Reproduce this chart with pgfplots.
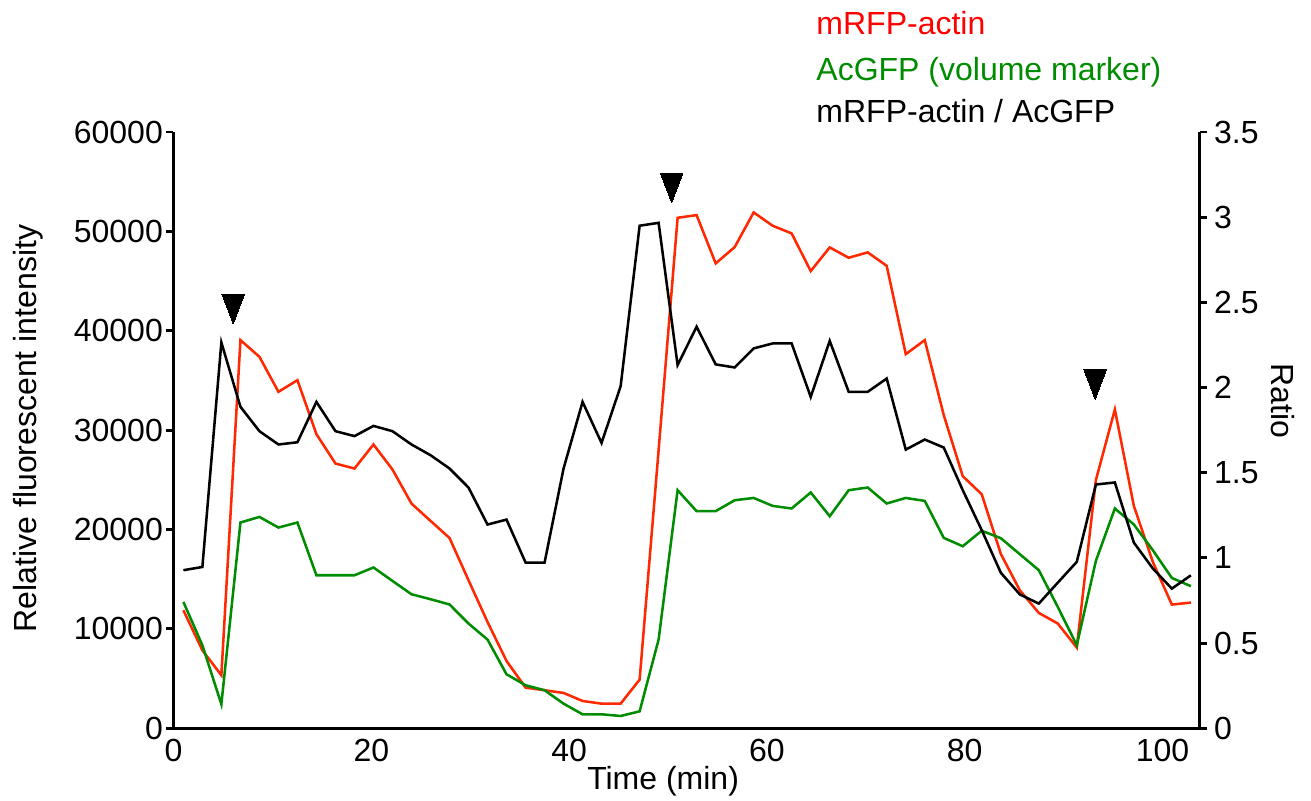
\documentclass[border=0pt]{standalone}
\usepackage{fontspec}
\setmainfont{Liberation Sans}
\usepackage{pgfplots}
\pgfplotsset{compat=1.18}

\definecolor{lnred}{RGB}{255,40,0}
\definecolor{lngreen}{RGB}{0,140,0}
\definecolor{txtred}{RGB}{255,0,0}

% time points (min), one every ~1.92 min
\pgfplotstableread{
t      rfp    gfp
1.00   11880  12720
2.92   7850   8360
4.84   5340   2420
6.77   39060  20710
8.69   37380  21270
10.61  33860  20200
12.53  35030  20710
14.45  29600  15400
16.38  26640  15400
18.30  26140  15400
20.22  28560  16180
22.14  26040  14830
24.06  22620  13490
25.99  20870  12990
27.91  19150  12460
29.83  14900  10540
31.75  10700  8930
33.67  6780   5440
35.60  4090   4330
37.52  3830   3830
39.44  3560   2480
41.36  2750   1410
43.28  2480   1410
45.21  2480   1240
47.13  4900   1710
49.05  28000  8930
50.97  51370  23960
52.89  51640  21850
54.82  46780  21850
56.74  48420  22950
58.66  51910  23180
60.58  50570  22380
62.50  49800  22120
64.43  46010  23730
66.35  48390  21340
68.27  47350  23960
70.19  47890  24230
72.11  46540  22620
74.04  37650  23180
75.96  39060  22880
77.88  31510  19160
79.80  25370  18320
81.72  23550  19880
83.65  17550  19130
85.57  13890  17520
87.49  11610  15910
89.41  10540  12210
91.33  8120   8360
93.26  24970  16840
95.18  32080  22120
97.10  22380  20510
99.02  16740  17920
100.94 12450  15130
102.87 12650  14300
}\intensity

\pgfplotstableread{
t      ratio
1.00   0.928
2.92   0.947
4.84   2.265
6.77   1.887
8.69   1.744
10.61  1.666
12.53  1.679
14.45  1.916
16.38  1.744
18.30  1.715
20.22  1.775
22.14  1.744
24.06  1.666
25.99  1.603
27.91  1.525
29.83  1.413
31.75  1.196
33.67  1.225
35.60  0.973
37.52  0.973
39.44  1.525
41.36  1.916
43.28  1.675
45.21  2.008
47.13  2.950
49.05  2.967
50.97  2.132
52.89  2.357
54.82  2.136
56.74  2.118
58.66  2.230
60.58  2.259
62.50  2.259
64.43  1.945
66.35  2.274
68.27  1.975
70.19  1.975
72.11  2.053
74.04  1.636
75.96  1.695
77.88  1.648
79.80  1.398
81.72  1.163
83.65  0.913
85.57  0.786
87.49  0.732
89.41  0.855
91.33  0.977
93.26  1.431
95.18  1.443
97.10  1.090
99.02  0.938
100.94 0.820
102.87 0.898
}\ratio

\pgfplotsset{
  twin/.style={
    scale only axis,
    width=384.75pt, height=223.6pt,
    xmin=0, xmax=103.74,
    font=\fontsize{12}{14}\selectfont,
    /pgf/number format/assume math mode=true,
    /pgf/number format/1000 sep={},
    scaled y ticks=false,
    axis line style={-, line width=1.1pt},
    tick align=outside,
    major tick length=2.8pt,
    major tick style={line width=1.1pt, black},
    clip=false,
  },
}

\begin{document}
\begin{tikzpicture}
\path[use as bounding box] (-65.06pt,-26.89pt) rectangle (426.56pt,273.11pt);

\begin{axis}[
    twin,
    axis x line*=bottom, axis y line*=left,
    ymin=0, ymax=60000,
    ytick={0,10000,...,60000},
    xtick={0,20,...,100},
    x tick style={draw=none},
    xticklabel style={yshift=2.2pt},
    yticklabel style={inner sep=1pt},
]
\addplot[lnred, line width=0.95pt] table[x=t, y=rfp] {\intensity};
\addplot[lngreen, line width=0.95pt] table[x=t, y=gfp] {\intensity};
% arrowheads marking the stimulations
\addplot[only marks, black, mark=triangle*, mark size=7.4pt,
         mark options={rotate=180, xscale=0.66, fill=black, draw=black, line width=0pt}]
  coordinates {(6.04,42700) (50.37,54880) (93.19,35100)};
\end{axis}

\begin{axis}[
    twin,
    axis x line=none, axis y line*=right,
    ymin=0, ymax=3.5,
    ytick={0,0.5,...,3.5},
    yticklabel style={inner sep=1pt, xshift=1.5pt},
]
\addplot[black, line width=0.95pt] table[x=t, y=ratio] {\ratio};
\end{axis}

\begin{scope}[font=\fontsize{12}{14}\selectfont]
\node[rotate=90] at (-54.56pt,112.4pt) {Relative fluorescent intensity};
\node[rotate=-90] at (416.1pt,122.7pt) {Ratio};
\node at (183.6pt,-19.8pt) {Time (min)};
\node[anchor=base west, inner sep=0pt, text=txtred] at (240.9pt,260pt) {mRFP-actin};
\node[anchor=base west, inner sep=0pt, text=lngreen] at (240.9pt,243.1pt) {AcGFP (volume marker)};
\node[anchor=base west, inner sep=0pt] at (240.9pt,227.1pt) {mRFP-actin / AcGFP};
\end{scope}
\end{tikzpicture}
\end{document}
